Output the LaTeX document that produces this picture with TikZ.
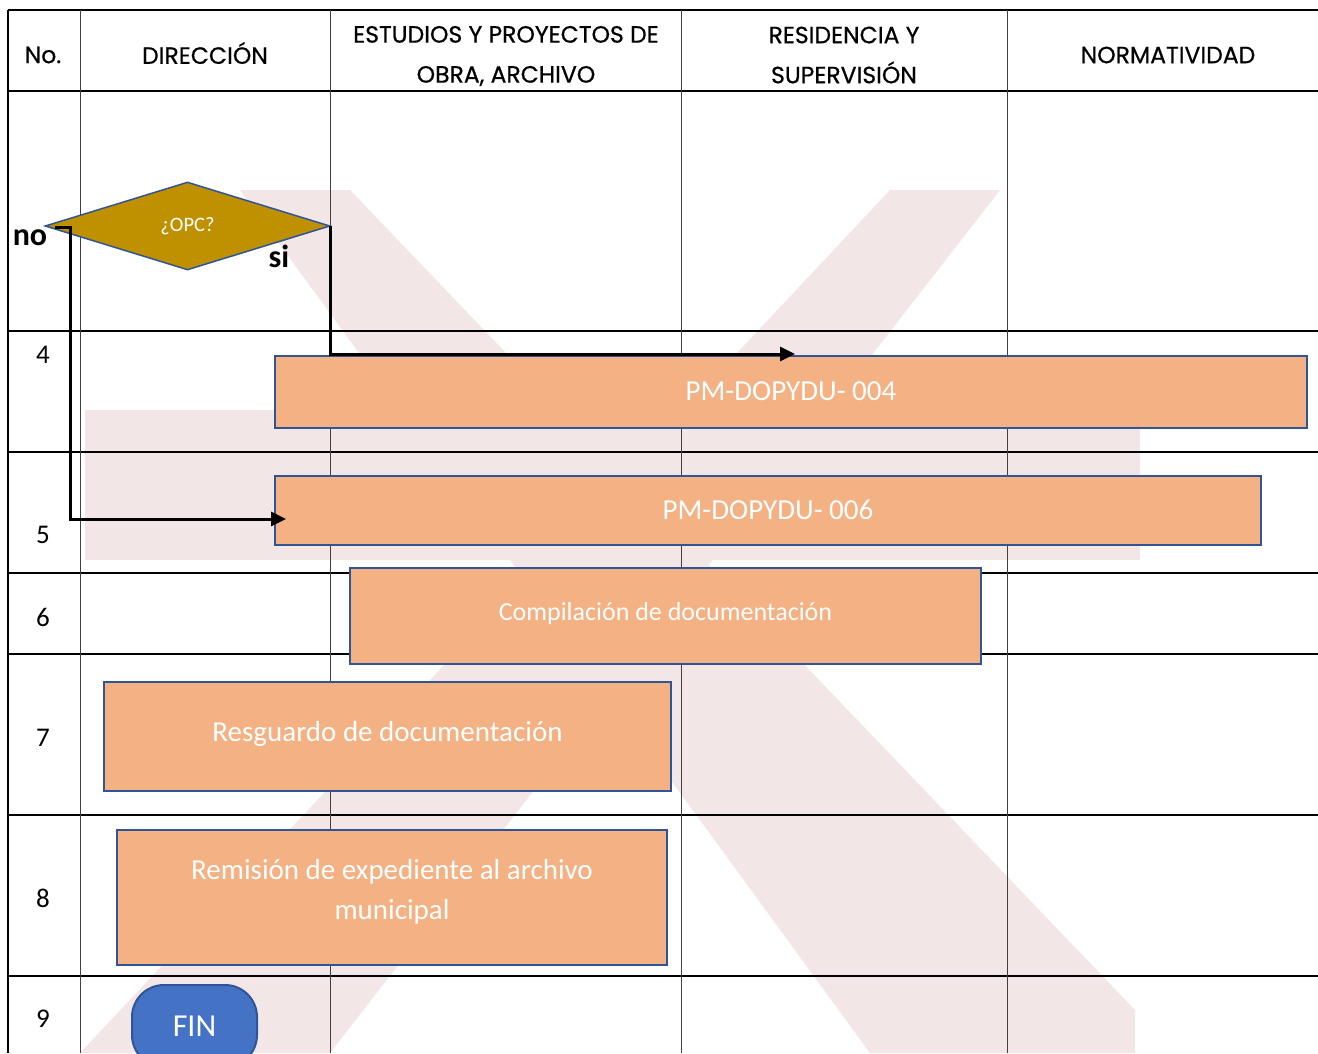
\documentclass[tikz,border=0pt]{standalone}
\usepackage{fontspec}
\setmainfont{Carlito}
\newfontfamily\headfont{Poppins}[FakeBold=0.6]
\usetikzlibrary{shapes.geometric,arrows.meta}

\definecolor{boxfill}{HTML}{F4B183}
\definecolor{boxline}{HTML}{2F5597}
\definecolor{gold}{HTML}{BF9000}
\definecolor{finblue}{HTML}{4472C4}
\definecolor{sealpink}{HTML}{F3E6E6}

\begin{document}
\begin{tikzpicture}[x=1pt,y=-1pt]
        \tikzstyle{rule}=[black,line width=2pt]
        \tikzstyle{lane}=[black!75,line width=1pt]
        \tikzstyle{seal}=[fill=sealpink,draw=none]
        \tikzstyle{act}=[draw=boxline,fill=boxfill,line width=2pt,text=white,align=center,inner sep=0pt,font=\fontsize{29}{40}\selectfont]
        \tikzstyle{head}=[align=center,font=\headfont\fontsize{23.5}{40}\selectfont]
        \tikzstyle{num}=[font=\fontsize{27}{30}\selectfont]
        \tikzstyle{answer}=[font=\bfseries\fontsize{32}{32}\selectfont]
        \tikzstyle{flow}=[line width=3pt,-{Triangle[length=15pt,width=14pt]}]

        \useasboundingbox (0,0) rectangle (1318,1053);

        %faint seal behind the table
        \fill[seal] (240,190) -- (350,190) -- (1135,1010) -- (1135,1053) -- (870,1053) -- cycle;
        \fill[seal] (890,190) -- (1000,190) -- (330,1053) -- (80,1053) -- cycle;
        \fill[seal] (85,410) rectangle (1140,560);

        %table rules
        \foreach \y in {10,91,331,452,573,654,815,976} {
            \draw[rule] (8,\y) -- (1318,\y);
        };
        \draw[black,line width=1.5pt] (8,10) -- (8,1053);
        \foreach \x in {80,330,681,1007} {
            \draw[lane] (\x,10) -- (\x,1053);
        };

        %column heads
        \node[head] (hno) at (43,55) {No.};
        \node[head] (hdir) at (205,53) {DIRECCIÓN};
        \node[head] (hest) at (506,56) {ESTUDIOS Y PROYECTOS DE\\OBRA, ARCHIVO};
        \node[head] (hres) at (844,55) {RESIDENCIA Y\\SUPERVISIÓN};
        \node[head] (hnor) at (1168,55) {NORMATIVIDAD};

        %step numbers
        \foreach \n/\y in {4/355,5/535,6/617,7/738,8/898,9/1019} {
            \node[num] (row\n) at (43,\y) {\n};
        };

        %decision
        \node[diamond,draw=boxline,fill=gold,line width=1.5pt,inner sep=0pt,
              minimum width=285pt,minimum height=88pt,text=white,
              font=\fontsize{20.5}{20}\selectfont] (opc) at (187.5,226) {¿OPC?};
        \node[answer] (no) at (30,238) {no};
        \node[answer] (si) at (279,256) {si};

        %activities
        \node[act,minimum width=1032pt,minimum height=72pt] (pm4) at (791,392) {\raisebox{2pt}{PM-DOPYDU- 004}};
        \node[act,minimum width=986pt,minimum height=69pt] (pm6) at (768,510.5) {\raisebox{2pt}{PM-DOPYDU- 006}};
        \node[act,minimum width=631pt,minimum height=96pt,font=\fontsize{26}{40}\selectfont] (comp) at (665.5,616) {\raisebox{10pt}{Compilación de documentación}};
        \node[act,minimum width=567pt,minimum height=109pt] (resg) at (387.5,736.5) {\raisebox{10pt}{Resguardo de documentación}};
        \node[act,minimum width=550pt,minimum height=135pt] (remi) at (392,897.5) {Remisión de expediente al archivo\\municipal\\[-24pt]};
        \node[draw=boxline,fill=finblue,line width=2pt,rounded corners=32pt,text=white,
              minimum width=125pt,minimum height=82pt,font=\fontsize{32}{32}\selectfont] (fin) at (194.5,1026) {FIN};

        %connectors
        \coordinate (siend) at (795,354);
        \coordinate (nostart) at (55,227);
        \coordinate (nobend) at (70,227);
        \coordinate (noend) at (286,519);
        \draw[flow] (opc.east) |- (siend);
        \draw[flow] (nostart) -- (nobend) |- (noend);
\end{tikzpicture}
\end{document}
